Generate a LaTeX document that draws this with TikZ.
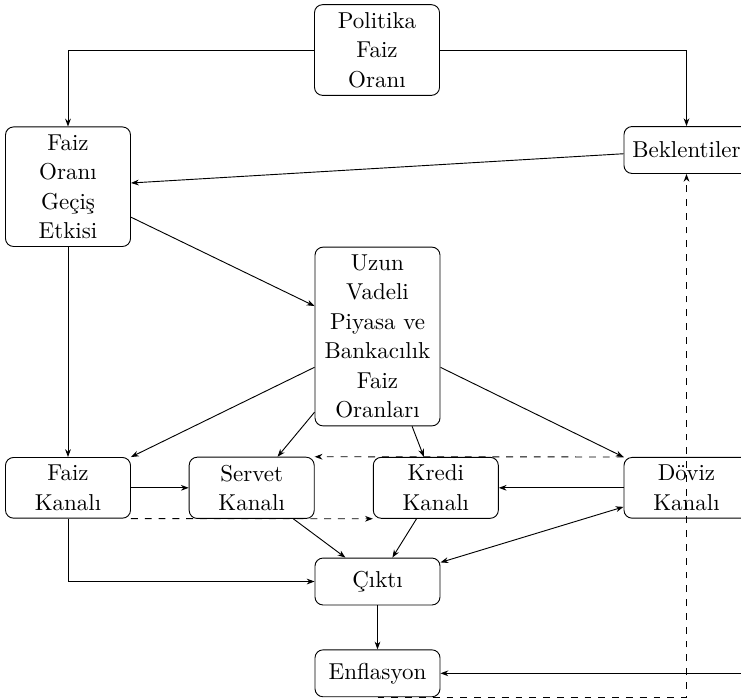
\documentclass[tikz,border=0pt]{standalone}
\usetikzlibrary{arrows.meta}
\begin{document}
\begin{tikzpicture}[x=0.43478pt,y=-0.43478pt,
  box/.style={draw, rounded corners=3.5pt, text width=47.7pt, align=center,
    minimum height=20.4pt, inner sep=3.33pt, font=\fontsize{10}{12.8}\selectfont},
  >={Stealth[length=3.4pt,width=2.5pt]}]
\useasboundingbox (0,0) rectangle (741,698);
\clip (0,0) rectangle (741,698);
\node[box] (P) at (377,50) {Politika\\Faiz\\Oranı};
\node[box] (F) at (68,186.7) {Faiz\\Oranı\\Geçiş\\Etkisi};
\node[box] (B) at (686.5,150) {Beklentiler};
\node[box] (U) at (377.5,336.5) {Uzun\\Vadeli\\Piyasa ve\\Bankacılık\\Faiz\\Oranları};
\node[box] (FK) at (68,487.8) {Faiz\\Kanalı};
\node[box] (S) at (251.7,487.8) {Servet\\Kanalı};
\node[box] (K) at (435.8,487.8) {Kredi\\Kanalı};
\node[box] (D) at (686.5,487.8) {Döviz\\Kanalı};
\node[box] (C) at (377.5,581.5) {Çıktı};
\node[box] (E) at (377.5,673.3) {Enflasyon};
\coordinate (R) at (780,673.3);

\draw[->] (P.west) -| (F.north);
\draw[->] (P.east) -| (B.north);
\draw[->] (B) -- (F);
\draw[->] (F) -- (U);
\draw[->] (F) -- (FK);
\draw[->] (U) -- (FK);
\draw[->] (U) -- (S);
\draw[->] (U) -- (K);
\draw[->] (U) -- (D);
\draw[->] (FK) -- (S);
\draw[->] (D) -- (K);
\draw[->,dashed] (FK.south east) -- (K.south west);
\draw[->,dashed] (D.north west) -- (S.north east);
\draw[->] (FK.south) |- (C.west);
\draw[->] (S) -- (C);
\draw[->] (K) -- (C);
\draw[<->] (C) -- (D);
\draw[->] (C) -- (E);
\draw[->,dashed] (E.south) -| (B.south);
\draw[->] (R) -- (E.east);
\end{tikzpicture}
\end{document}
